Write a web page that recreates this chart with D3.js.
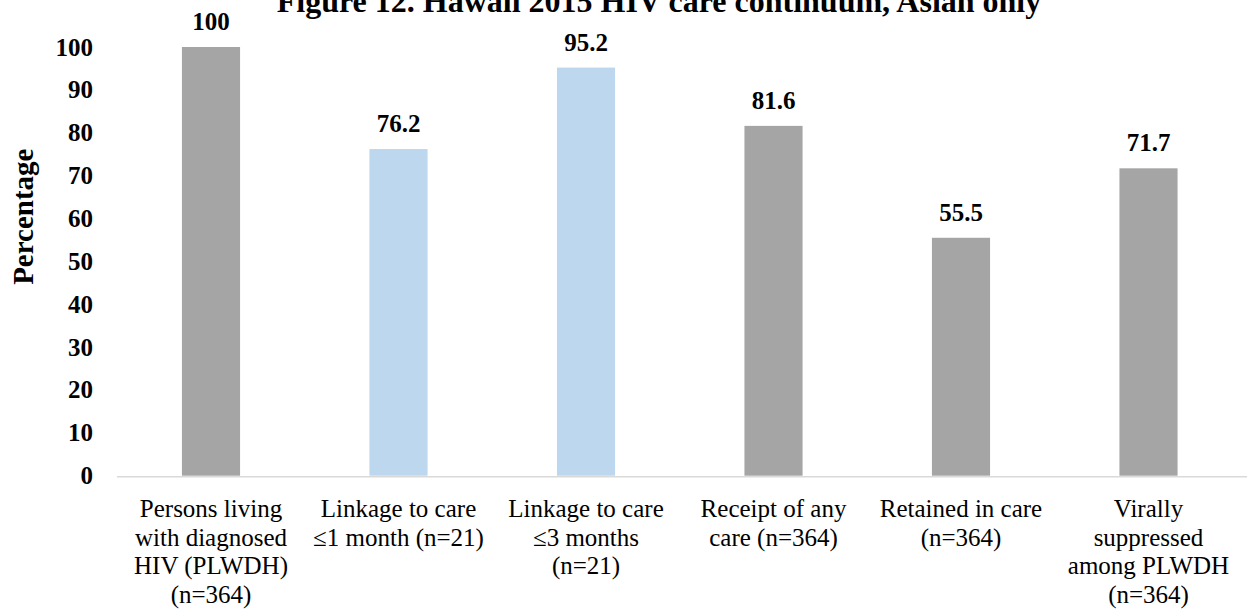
<!DOCTYPE html>
<html>
<head>
<meta charset="utf-8">
<script src="https://cdn.jsdelivr.net/npm/d3@7"></script>
<style>
  body { margin: 0; background: #fff; }
  svg text { font-family: "Liberation Serif", "Times New Roman", serif; fill: #000; }
</style>
</head>
<body>
<div id="chart"></div>
<script>
// categories (each entry is the lines of the axis label)
var categories = [
    ["Persons living", "with diagnosed", "HIV (PLWDH)", "(n=364)"],
    ["Linkage to care", "\u22641 month (n=21)"],
    ["Linkage to care", "\u22643 months", "(n=21)"],
    ["Receipt of any", "care (n=364)"],
    ["Retained in care", "(n=364)"],
    ["Virally", "suppressed", "among PLWDH", "(n=364)"]
];
var values = [100, 76.2, 95.2, 81.6, 55.5, 71.7];
var barGroup = ["total", "linkage", "linkage", "total", "total", "total"];
var yTicks = [0, 10, 20, 30, 40, 50, 60, 70, 80, 90, 100];
var titleText = "Figure 12. Hawaii 2015 HIV care continuum, Asian only";
var yLabel = "Percentage";

var width = 1247, height = 614;
var colors = {total: "#A5A5A5", linkage: "#BDD7EE"};
var serif = "'Liberation Serif', 'Times New Roman', serif";

var svg = d3.select("#chart").append("svg")
    .attr("width", width)
    .attr("height", height);

var x = d3.scaleBand()
    .domain(d3.range(categories.length))
    .range([117.25, 1242.25])
    .paddingInner(0.69)
    .paddingOuter(0.345);

var y = d3.scaleLinear()
    .domain([0, 100])
    .range([475.7, 47]);

// title, partly cut off at the top like the original
svg.append("text")
    .attr("x", 659)
    .attr("y", 12)
    .attr("text-anchor", "middle")
    .style("font-family", serif)
    .style("font-size", "32px")
    .style("font-weight", "bold")
    .text(titleText);

// y axis labels only, no line or ticks
var yAxis = svg.append("g")
    .attr("transform", "translate(93,0)")
    .call(d3.axisLeft(y).tickValues(yTicks).tickSize(0).tickPadding(0));
yAxis.select(".domain").remove();
yAxis.selectAll("text")
    .style("font-size", "25px")
    .style("font-weight", "bold")
    .style("font-family", serif)
    .attr("fill", "#000");

svg.append("text")
    .attr("transform", "translate(33," + 216.7 + ") rotate(-90)")
    .attr("text-anchor", "middle")
    .style("font-family", serif)
    .style("font-size", "29px")
    .style("font-weight", "bold")
    .text(yLabel);

// bars
svg.selectAll("rect.bar")
    .data(values)
    .enter().append("rect")
    .attr("class", "bar")
    .attr("x", function(d, i) { return x(i); })
    .attr("y", function(d) { return y(d); })
    .attr("width", x.bandwidth())
    .attr("height", function(d) { return y(0) - y(d); })
    .style("fill", function(d, i) { return colors[barGroup[i]]; });

// value labels
svg.selectAll("text.val")
    .data(values)
    .enter().append("text")
    .attr("class", "val")
    .attr("x", function(d, i) { return x(i) + x.bandwidth() / 2; })
    .attr("y", function(d) { return y(d) - 17; })
    .attr("text-anchor", "middle")
    .style("font-family", serif)
    .style("font-size", "25px")
    .style("font-weight", "bold")
    .text(function(d) { return d; });

// baseline
svg.append("line")
    .attr("x1", 117)
    .attr("x2", width)
    .attr("y1", y(0) + 1)
    .attr("y2", y(0) + 1)
    .attr("stroke", "#D9D9D9")
    .attr("stroke-width", 1.5);

// category labels, several lines each
var cat = svg.selectAll("text.cat")
    .data(categories)
    .enter().append("text")
    .attr("class", "cat")
    .attr("text-anchor", "middle")
    .style("font-family", serif)
    .style("font-size", "25px");

cat.selectAll("tspan")
    .data(function(d, i) { return d.map(function(s) { return {s: s, i: i}; }); })
    .enter().append("tspan")
    .attr("x", function(d) { return x(d.i) + x.bandwidth() / 2; })
    .attr("y", function(d, j) { return 517 + j * 28.7; })
    .text(function(d) { return d.s; });
</script>
</body>
</html>
